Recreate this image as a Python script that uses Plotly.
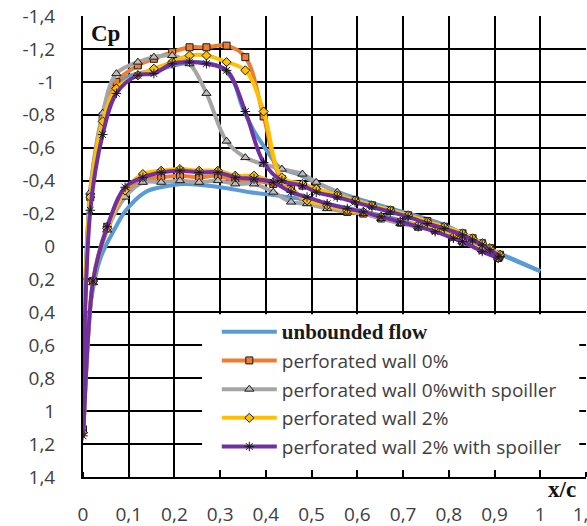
import plotly.graph_objects as go

# ---------------- data ----------------
# upper surface (LE -> TE) pressure taps
UX = [0.016, 0.043, 0.073, 0.12, 0.155, 0.195, 0.233, 0.27, 0.314, 0.355, 0.395, 0.435, 0.48,
      0.51, 0.556, 0.595, 0.632, 0.672, 0.711, 0.753, 0.79, 0.83, 0.852, 0.873, 0.89, 0.912]
# lower surface (LE -> TE) pressure taps
LX = [0.022, 0.053, 0.092, 0.131, 0.171, 0.212, 0.254, 0.295, 0.333, 0.374, 0.416, 0.455,
      0.49, 0.534, 0.578, 0.613, 0.652, 0.694, 0.733, 0.77, 0.81, 0.83, 0.873, 0.908]
STAG_X = 0.0

P0_UP = [-0.30, -0.79, -1.00, -1.10, -1.14, -1.18, -1.21, -1.21, -1.22, -1.15, -0.79, -0.41, -0.37,
         -0.35, -0.31, -0.28, -0.25, -0.22, -0.19, -0.155, -0.12, -0.08, -0.05, -0.02, 0.01, 0.05]
P0_LO = [0.21, -0.12, -0.33, -0.40, -0.42, -0.43, -0.42, -0.43, -0.40, -0.40, -0.38, -0.35,
         -0.27, -0.24, -0.21, -0.20, -0.17, -0.145, -0.12, -0.10, -0.06, -0.03, 0.02, 0.07]
P0_ST = 1.11

P0S_UP = [-0.33, -0.81, -1.05, -1.12, -1.15, -1.16, -1.11, -0.93, -0.64, -0.54, -0.50, -0.47, -0.44,
          -0.39, -0.33, -0.28, -0.25, -0.22, -0.18, -0.15, -0.115, -0.07, -0.04, -0.01, 0.02, 0.05]
P0S_LO = [0.22, -0.10, -0.30, -0.39, -0.39, -0.40, -0.39, -0.40, -0.38, -0.38, -0.33, -0.27,
          -0.26, -0.23, -0.21, -0.20, -0.17, -0.14, -0.12, -0.10, -0.06, -0.03, 0.02, 0.07]
P0S_ST = 1.12

P2_UP = [-0.30, -0.76, -0.96, -1.04, -1.08, -1.12, -1.16, -1.16, -1.12, -1.07, -0.82, -0.42, -0.38,
         -0.35, -0.31, -0.28, -0.25, -0.22, -0.19, -0.15, -0.12, -0.08, -0.05, -0.02, 0.01, 0.05]
P2_LO = [0.21, -0.11, -0.34, -0.44, -0.46, -0.47, -0.46, -0.46, -0.43, -0.43, -0.39, -0.34,
         -0.28, -0.25, -0.22, -0.21, -0.18, -0.15, -0.13, -0.10, -0.06, -0.03, 0.02, 0.07]
P2_ST = 1.13

P2S_UP = [-0.22, -0.68, -0.93, -1.04, -1.05, -1.11, -1.12, -1.11, -1.07, -0.82, -0.51, -0.40, -0.37,
          -0.33, -0.30, -0.27, -0.24, -0.21, -0.18, -0.14, -0.11, -0.07, -0.04, -0.01, 0.02, 0.06]
P2S_LO = [0.21, -0.12, -0.36, -0.42, -0.45, -0.46, -0.45, -0.45, -0.42, -0.41, -0.39, -0.33,
          -0.30, -0.26, -0.23, -0.21, -0.18, -0.15, -0.12, -0.09, -0.05, -0.03, 0.03, 0.07]
P2S_ST = 1.15

# unbounded flow (computed curve, no markers)
BU_X = [0.004, 0.01, 0.018, 0.033, 0.059, 0.09, 0.12, 0.16, 0.2, 0.25, 0.28, 0.30, 0.328, 0.348,
        0.372, 0.40, 0.43, 0.47, 0.5, 0.55, 0.6, 0.7, 0.8, 0.9, 1.0]
BU_Y = [0.3, -0.1, -0.40, -0.65, -0.93, -1.02, -1.05, -1.07, -1.10, -1.12, -1.11, -1.09, -1.01, -0.85,
        -0.71, -0.59, -0.48, -0.44, -0.40, -0.34, -0.29, -0.21, -0.12, 0.03, 0.15]
BL_X = [0.012, 0.037, 0.072, 0.094, 0.136, 0.17, 0.223, 0.3, 0.365, 0.45, 0.55, 0.65, 0.77, 0.9,
        1.0]
BL_Y = [0.45, 0.08, -0.12, -0.22, -0.33, -0.36, -0.38, -0.36, -0.33, -0.30, -0.25, -0.19, -0.10,
        0.03, 0.15]
B_ST = 1.12

X_TICKS = [0, 0.1, 0.2, 0.3, 0.4, 0.5, 0.6, 0.7, 0.8, 0.9, 1.0, 1.1]
X_TEXT = ["0", "0,1", "0,2", "0,3", "0,4", "0,5", "0,6", "0,7", "0,8", "0,9", "1", "1,1"]
Y_TICKS = [-1.4, -1.2, -1.0, -0.8, -0.6, -0.4, -0.2, 0, 0.2, 0.4, 0.6, 0.8, 1.0, 1.2, 1.4]
Y_TEXT = ["-1,4", "-1,2", "-1", "-0,8", "-0,6", "-0,4", "-0,2", "0", "0,2", "0,4", "0,6", "0,8",
          "1", "1,2", "1,4"]

NAMES = ['<b><span style="font-family:Liberation Serif;font-size:21px;color:#1a1a1a">unbounded flow</span></b>',
         "perforated wall 0%", "perforated wall 0%with spoiller",
         "perforated wall 2%", "perforated wall 2% with spoiller"]

fig = go.Figure()

# unbounded flow: upper branch (shown in legend) and lower branch from stagnation point
fig.add_trace(go.Scatter(x=list(reversed(BU_X)) + [STAG_X], y=list(reversed(BU_Y)) + [B_ST],
                         mode="lines", name=NAMES[0], legendgroup="g0",
                         line=dict(color="#5B9BD5", width=4, shape="spline")))
fig.add_trace(go.Scatter(x=[STAG_X] + BL_X, y=[B_ST] + BL_Y, mode="lines", showlegend=False,
                         legendgroup="g0",
                         line=dict(color="#5B9BD5", width=4, shape="spline")))

series = [
    (P0_UP, P0_LO, P0_ST, NAMES[1], "#ED7D31", "square", "#ED7D31", 7),
    (P0S_UP, P0S_LO, P0S_ST, NAMES[2], "#A5A5A5", "triangle-up", "#BDBDBD", 8),
    (P2_UP, P2_LO, P2_ST, NAMES[3], "#FFC000", "diamond", "#FFC000", 7),
    (P2S_UP, P2S_LO, P2S_ST, NAMES[4], "#7030A0", "asterisk-open", "#1a1a1a", 8),
]
for i, (up, lo, st, nm, col, sym, mcol, ms) in enumerate(series):
    xs = list(reversed(UX)) + [STAG_X] + LX
    ys = list(reversed(up)) + [st] + lo
    fig.add_trace(go.Scatter(
        x=xs, y=ys, mode="lines+markers", name=nm, legendgroup="g%d" % (i + 1),
        line=dict(color=col, width=4, shape="spline"),
        marker=dict(symbol=sym, size=ms, color=mcol,
                    line=dict(color="#1a1a1a", width=1))))

# white panel behind the legend: hides the grid there but keeps the bottom axis ticks
fig.add_shape(type="rect", xref="x", yref="y", x0=0.2604, x1=1.0853, y0=0.412, y1=1.358,
              fillcolor="white", line=dict(width=0), layer="between")

tickfont = dict(family="Open Sans", size=19, color="#404040")
axis_common = dict(tickfont=tickfont, showgrid=True, gridcolor="black", gridwidth=2,
                   showline=True, linecolor="black", linewidth=2,
                   ticks="outside", tickcolor="white", layer="above traces",
                   zeroline=False, automargin=False, ticklabeloverflow="allow")
fig.update_layout(
    template="none",
    width=587, height=526,
    margin=dict(l=83, r=1, t=16, b=49),
    paper_bgcolor="white", plot_bgcolor="white",
    showlegend=True,
    legend=dict(x=0.266, y=0.356, xanchor="left", yanchor="top",
                bgcolor="rgba(0,0,0,0)", borderwidth=0,
                font=dict(family="Open Sans", size=19, color="#404040"),
                itemwidth=55, tracegroupgap=1),
    xaxis=dict(range=[0, 1.1], tickvals=X_TICKS, ticktext=X_TEXT, ticklen=19,
               minor=dict(tickvals=X_TICKS, ticks="inside", ticklen=5, tickcolor="black",
                          tickwidth=2, showgrid=False),
               **axis_common),
    yaxis=dict(range=[1.4, -1.4], tickvals=Y_TICKS, ticktext=Y_TEXT, ticklen=22,
               **axis_common),
    annotations=[
        dict(text="<b>Cp</b>", xref="paper", yref="paper", x=0.044, y=0.962,
             xanchor="center", yanchor="middle",
             showarrow=False, font=dict(family="Liberation Serif", size=23, color="#111111")),
        dict(text="<b>x/c</b>", xref="paper", yref="paper", x=0.952, y=-0.028,
             xanchor="center", yanchor="middle",
             showarrow=False, font=dict(family="Liberation Serif", size=23, color="#111111")),
    ],
)

fig.write_html("out.html")
